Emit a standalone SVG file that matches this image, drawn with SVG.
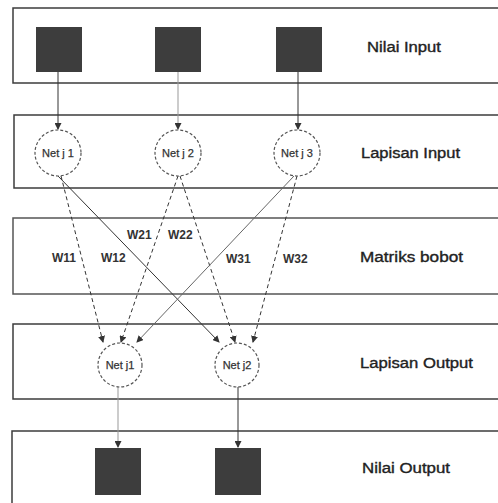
<svg xmlns="http://www.w3.org/2000/svg" width="498" height="503" viewBox="0 0 498 503">
<defs>
<marker id="ah" markerWidth="7" markerHeight="7" refX="6" refY="3.5" orient="auto" markerUnits="userSpaceOnUse">
<path d="M0,0 L7,3.5 L0,7 Z" fill="#333"/>
</marker>
<style>
.band{fill:none;stroke:#3c3c3c;stroke-width:1.5}
.sq{fill:#3d3d3d}
.nd{fill:#fff;stroke:#555;stroke-width:1.2;stroke-dasharray:3 2}
.nt{font-family:"Liberation Sans",Arial,sans-serif;font-size:11px;fill:#333;stroke:#333;stroke-width:0.25;text-anchor:middle}
.lb{font-family:"Liberation Sans",Arial,sans-serif;font-size:14px;fill:#222;stroke:#222;stroke-width:0.35}
.w{font-family:"Liberation Sans",Arial,sans-serif;font-size:12px;font-weight:bold;fill:#333}
.c{fill:none;stroke:#333;stroke-width:1}
.cd{fill:none;stroke:#333;stroke-width:1;stroke-dasharray:4 3}
.cl{fill:none;stroke:#999;stroke-width:1}
</style>
</defs>
<rect width="498" height="503" fill="#fff"/>
<g id="bands">
<path class="band" d="M500,8 H13 V83 H500"/>
<path class="band" d="M500,115 H14 V188 H500"/>
<path class="band" d="M500,218 H13 V294 H500" style="stroke:#555"/>
<path class="band" d="M500,324 H13 V399 H500"/>
<path class="band" d="M500,431 H12 V506"/>
</g>
<g id="labels">
<text class="lb" x="367" y="52" textLength="74" lengthAdjust="spacingAndGlyphs">Nilai Input</text>
<text class="lb" x="361" y="158" textLength="99" lengthAdjust="spacingAndGlyphs">Lapisan Input</text>
<text class="lb" x="360" y="262" textLength="103" lengthAdjust="spacingAndGlyphs">Matriks bobot</text>
<text class="lb" x="360" y="368" textLength="113" lengthAdjust="spacingAndGlyphs">Lapisan Output</text>
<text class="lb" x="362" y="473" textLength="88" lengthAdjust="spacingAndGlyphs">Nilai Output</text>
</g>
<g id="connectors">
<line class="c" x1="58" y1="72" x2="58" y2="129" marker-end="url(#ah)"/>
<line class="cl" x1="178" y1="72" x2="178" y2="129" marker-end="url(#ah)"/>
<line class="c" x1="298" y1="72" x2="298" y2="129" marker-end="url(#ah)"/>
<line class="cd" x1="61" y1="176" x2="103" y2="342" marker-end="url(#ah)"/>
<line class="c" x1="58" y1="176" x2="219" y2="342" marker-end="url(#ah)"/>
<line class="cd" x1="178" y1="176" x2="121" y2="342" marker-end="url(#ah)"/>
<line class="cd" x1="180" y1="176" x2="235" y2="342" marker-end="url(#ah)"/>
<line class="c" x1="294" y1="176" x2="137" y2="342" marker-end="url(#ah)" style="stroke:#666"/>
<line class="cd" x1="297" y1="176" x2="253" y2="342" marker-end="url(#ah)"/>
<line class="cl" x1="118" y1="387" x2="118" y2="447" marker-end="url(#ah)"/>
<line class="c" x1="238" y1="387" x2="238" y2="447" marker-end="url(#ah)"/>
</g>
<g id="weights">
<text class="w" x="52" y="262">W11</text>
<text class="w" x="101" y="262">W12</text>
<text class="w" x="127" y="239">W21</text>
<text class="w" x="168" y="239">W22</text>
<text class="w" x="226" y="263">W31</text>
<text class="w" x="283" y="263">W32</text>
</g>
<g id="in1"><rect class="sq" x="36" y="27" width="46" height="45"/></g>
<g id="in2"><rect class="sq" x="155" y="27" width="46" height="45"/></g>
<g id="in3"><rect class="sq" x="276" y="27" width="46" height="45"/></g>
<g id="netj1"><circle class="nd" cx="58" cy="153" r="23"/><text class="nt" x="58" y="157">Net j 1</text></g>
<g id="netj2"><circle class="nd" cx="178" cy="153" r="23"/><text class="nt" x="178" y="157">Net j 2</text></g>
<g id="netj3"><circle class="nd" cx="297" cy="153" r="23"/><text class="nt" x="297" y="157">Net j 3</text></g>
<g id="netout1"><circle class="nd" cx="120" cy="365" r="22"/><text class="nt" x="120" y="369">Net j1</text></g>
<g id="netout2"><circle class="nd" cx="237" cy="365" r="22"/><text class="nt" x="237" y="369">Net j2</text></g>
<g id="out1"><rect class="sq" x="95" y="448" width="46" height="47"/></g>
<g id="out2"><rect class="sq" x="215" y="448" width="46" height="47"/></g>
</svg>
